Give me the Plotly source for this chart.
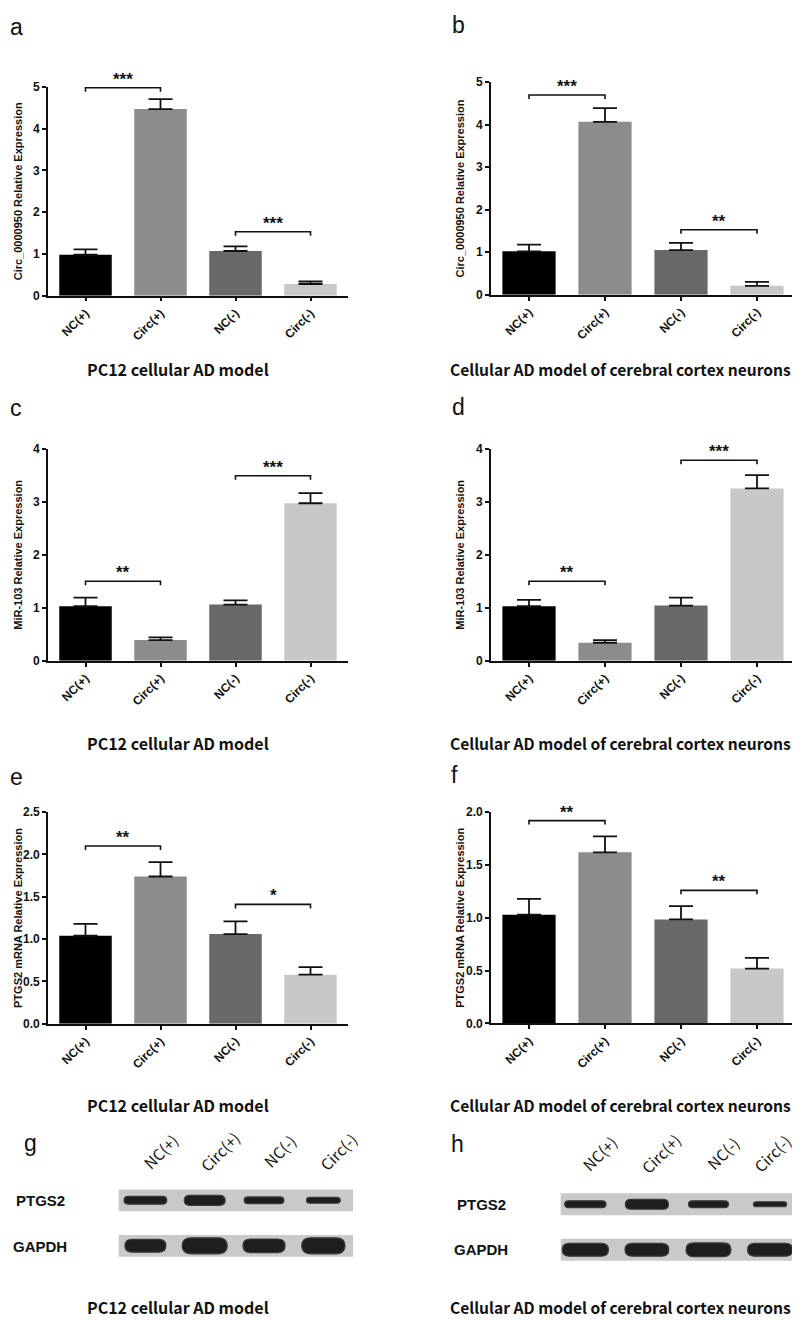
import plotly.graph_objects as go

W, H = 800, 1320

categories = ["NC(+)", "Circ(+)", "NC(-)", "Circ(-)"]
bar_colors = ["#000000", "#8c8c8c", "#686868", "#c8c8c8"]

# ---- bar chart data (mean, upper SD) ----
a_vals = [0.98, 4.47, 1.07, 0.28]
a_err = [0.13, 0.24, 0.11, 0.06]
b_vals = [1.02, 4.07, 1.05, 0.21]
b_err = [0.16, 0.32, 0.17, 0.09]
c_vals = [1.03, 0.39, 1.06, 2.97]
c_err = [0.16, 0.05, 0.08, 0.19]
d_vals = [1.03, 0.34, 1.04, 3.25]
d_err = [0.12, 0.05, 0.15, 0.25]
e_vals = [1.04, 1.74, 1.06, 0.58]
e_err = [0.14, 0.17, 0.15, 0.09]
f_vals = [1.03, 1.62, 0.985, 0.52]
f_err = [0.15, 0.15, 0.125, 0.10]

# significance brackets: (from, to, height, label)
a_sig = [(0, 1, 4.98, "***"), (2, 3, 1.53, "***")]
b_sig = [(0, 1, 4.70, "***"), (2, 3, 1.53, "**")]
c_sig = [(0, 1, 1.50, "**"), (2, 3, 3.49, "***")]
d_sig = [(0, 1, 1.50, "**"), (2, 3, 3.78, "***")]
e_sig = [(0, 1, 2.10, "**"), (2, 3, 1.41, "*")]
f_sig = [(0, 1, 1.92, "**"), (2, 3, 1.26, "**")]

y_titles = ["Circ_0000950 Relative Expression", "Circ_0000950 Relative Expression",
            "MiR-103 Relative Expression", "MiR-103 Relative Expression",
            "PTGS2 mRNA Relative Expression", "PTGS2 mRNA Relative Expression"]
y_max = [5, 5, 4, 4, 2.5, 2.0]
y_dtick = [1, 1, 1, 1, 0.5, 0.5]
y_fmt = ["d", "d", "d", "d", ".1f", ".1f"]
panel_letters = ["a", "b", "c", "d", "e", "f", "g", "h"]
left_title = "PC12 cellular AD model"
right_title = "Cellular AD model of cerebral cortex neurons"

# ---- western blot data (band width in lane units, band thickness in row units) ----
blot_rows = ["PTGS2", "GAPDH"]
g_ptgs2_w = [0.72, 0.69, 0.67, 0.57]
g_ptgs2_t = [0.17, 0.22, 0.15, 0.13]
g_gapdh_w = [0.69, 0.76, 0.71, 0.73]
g_gapdh_t = [0.28, 0.35, 0.30, 0.35]
h_ptgs2_w = [0.67, 0.70, 0.65, 0.54]
h_ptgs2_t = [0.15, 0.22, 0.15, 0.11]
h_gapdh_w = [0.75, 0.71, 0.73, 0.73]
h_gapdh_t = [0.28, 0.28, 0.30, 0.28]

ARIAL = "Liberation Sans, Arial, sans-serif"
TFONT = "Noto Sans CJK SC, Noto Sans, sans-serif"


def dx(p0, p1):
    return [p0 / W, p1 / W]


def dy(ptop, pbot):
    return [1 - pbot / H, 1 - ptop / H]


def px_y(p):
    return 1 - p / H


panels = [
    dict(v=a_vals, e=a_err, s=a_sig, xpx=(40, 340), ypx=(72.7, 283.7)),
    dict(v=b_vals, e=b_err, s=b_sig, xpx=(483, 787), ypx=(68, 282.7)),
    dict(v=c_vals, e=c_err, s=c_sig, xpx=(40, 340), ypx=(438.3, 652.7)),
    dict(v=d_vals, e=d_err, s=d_sig, xpx=(483, 787), ypx=(438.3, 652.7)),
    dict(v=e_vals, e=e_err, s=e_sig, xpx=(40, 340), ypx=(805.7, 1019.6)),
    dict(v=f_vals, e=f_err, s=f_sig, xpx=(483, 787), ypx=(805.7, 1019.3)),
]

fig = go.Figure()
layout = dict(
    width=W, height=H, margin=dict(l=0, r=0, t=0, b=0),
    paper_bgcolor="white", plot_bgcolor="white", showlegend=False,
)
annotations = []
shapes = []


def paper_text(xp, yp, text, font, angle=0):
    return dict(x=xp / W, y=px_y(yp), xref="paper", yref="paper", text=text,
                showarrow=False, xanchor="center", yanchor="middle", textangle=angle,
                font=font)


for k, p in enumerate(panels, start=1):
    xa, ya = f"x{k}", f"y{k}"
    fig.add_trace(go.Bar(
        x=list(range(4)), y=p["v"], xaxis=xa, yaxis=ya, width=0.7,
        marker=dict(color=bar_colors, line=dict(width=0)),
        error_y=dict(type="data", symmetric=False, array=p["e"], arrayminus=[0] * 4,
                     width=12, thickness=1.8, color="#111111"),
        hoverinfo="skip",
    ))
    ymx = y_max[k - 1]
    pxh = p["ypx"][1] - p["ypx"][0]
    tick_d = 4.0 * ymx / pxh
    for (i, j, hgt, lab) in p["s"]:
        fig.add_trace(go.Scatter(
            x=[i, i, j, j], y=[hgt - tick_d, hgt, hgt, hgt - tick_d], xaxis=xa, yaxis=ya,
            mode="lines", line=dict(color="#111111", width=1.6), cliponaxis=False,
            hoverinfo="skip",
        ))
        annotations.append(dict(
            x=(i + j) / 2, y=hgt, xref=xa, yref=ya, text=lab, showarrow=False,
            xanchor="center", yanchor="bottom", yshift=-3,
            font=dict(family=ARIAL, size=17, color="#111111", weight="bold"),
        ))
    layout[f"xaxis{k}"] = dict(
        domain=dx(*p["xpx"]), anchor=ya, range=[-0.5, 3.5],
        tickmode="array", tickvals=list(range(4)), ticktext=categories,
        tickangle=-45, ticks="outside", ticklen=4, tickwidth=1.5, tickcolor="#111111",
        showline=True, linecolor="#111111", linewidth=1.6, showgrid=False, zeroline=False,
        tickfont=dict(family=ARIAL, size=12, color="#111111", weight="bold"),
        fixedrange=True,
    )
    layout[f"yaxis{k}"] = dict(
        domain=dy(*p["ypx"]), anchor=xa, range=[0, ymx], dtick=y_dtick[k - 1],
        tickformat=y_fmt[k - 1], ticks="outside", ticklen=4, tickwidth=1.5,
        tickcolor="#111111", showline=True, linecolor="#111111", linewidth=1.6,
        showgrid=False, zeroline=False,
        tickfont=dict(family=ARIAL, size=12, color="#111111", weight="bold"),
        fixedrange=True,
    )
    title_x = 10 if p["xpx"][0] < 100 else 452
    annotations.append(paper_text(
        title_x, (p["ypx"][0] + p["ypx"][1]) / 2, y_titles[k - 1],
        dict(family=ARIAL, size=11, color="#111111", weight="bold"), angle=-90))

# ---- panel letters ----
letter_pos = [(8, 12), (450, 10), (8, 397), (450, 396), (8, 770), (446, 768), (22, 1140), (449, 1141)]
for lt, (lx, ly) in zip(panel_letters, letter_pos):
    annotations.append(paper_text(lx, ly, lt, dict(family=ARIAL, size=23, color="#111111")))

# ---- row titles ----
for ty in [358, 736, 1102, 1306]:
    annotations.append(paper_text(170, ty, left_title,
                                  dict(family=TFONT, size=16, color="#111111", weight="bold")))
    annotations.append(paper_text(612, ty, right_title,
                                  dict(family=TFONT, size=15.6, color="#111111", weight="bold")))

# ---- western blots ----
blots = [
    dict(k=7, xpx=(110.7, 345), xr=[-0.45, 3.5], yr=[-0.565, 1.609],
         w=[g_gapdh_w, g_ptgs2_w], t=[g_gapdh_t, g_ptgs2_t],
         lab_y=1148, lab_shift=[15, 15, 15, 15], row_x=32, row_y=[1245, 1198]),
    dict(k=8, xpx=(552.7, 786.7), xr=[-0.4, 3.4], yr=[-0.478, 1.696],
         w=[h_gapdh_w, h_ptgs2_w], t=[h_gapdh_t, h_ptgs2_t],
         lab_y=1150, lab_shift=[14, 14, 14, 2], row_x=473, row_y=[1248, 1202]),
]
for b in blots:
    k = b["k"]
    xa, ya = f"x{k}", f"y{k}"
    layout[f"xaxis{k}"] = dict(domain=dx(*b["xpx"]), anchor=ya, range=b["xr"], visible=False,
                               fixedrange=True)
    layout[f"yaxis{k}"] = dict(domain=dy(1170, 1270), anchor=xa, range=b["yr"], visible=False,
                               fixedrange=True)
    fig.add_trace(go.Scatter(x=[0], y=[0], xaxis=xa, yaxis=ya, mode="markers",
                             marker=dict(opacity=0), hoverinfo="skip"))
    px_per_x = (b["xpx"][1] - b["xpx"][0]) / (b["xr"][1] - b["xr"][0])
    px_per_y = 100.0 / (b["yr"][1] - b["yr"][0])
    for row in (0, 1):  # 0 = GAPDH (y=0), 1 = PTGS2 (y=1)
        shapes.append(dict(type="rect", xref=f"{xa} domain", yref=ya, x0=0, x1=1,
                           y0=row - 0.24, y1=row + 0.24, fillcolor="#c9c9c9",
                           line=dict(width=0), layer="below"))
        for lane in range(4):
            hw = b["w"][row][lane] / 2
            hh = b["t"][row][lane] / 2
            rx = hh * px_per_y / px_per_x * 1.1
            cx, cy = lane, row
            x1, x2 = cx - hw + rx, cx + hw - rx
            xl, xr = cx - hw, cx + hw
            yb, yt = cy - hh, cy + hh
            path = (f"M {x1},{yb} L {x2},{yb} Q {xr},{yb} {xr},{cy} Q {xr},{yt} {x2},{yt} "
                    f"L {x1},{yt} Q {xl},{yt} {xl},{cy} Q {xl},{yb} {x1},{yb} Z")
            shapes.append(dict(type="path", xref=xa, yref=ya, path=path,
                               fillcolor="#1e1e1e", line=dict(color="#3a3a3a", width=1.2)))
    for lane, lab in enumerate(categories):
        annotations.append(dict(x=lane, y=px_y(b["lab_y"]), xref=xa, yref="paper", text=lab,
                                textangle=-45, showarrow=False, xshift=b["lab_shift"][lane],
                                xanchor="center", yanchor="middle",
                                font=dict(family=TFONT, size=15.5, color="#111111")))
    for row_name, ry in zip(["GAPDH", "PTGS2"], b["row_y"]):
        annotations.append(paper_text(b["row_x"], ry, row_name,
                                      dict(family=ARIAL, size=15, color="#111111", weight="bold")))

layout["annotations"] = annotations
layout["shapes"] = shapes
fig.update_layout(**layout)
fig.write_html("out.html")
